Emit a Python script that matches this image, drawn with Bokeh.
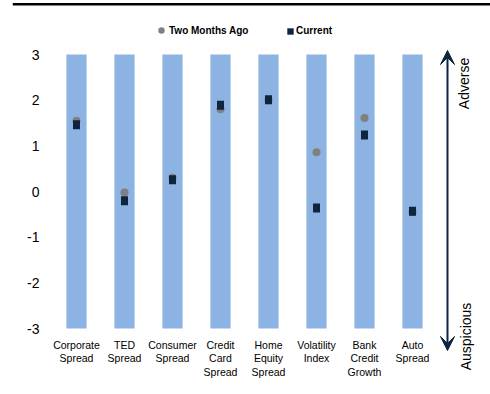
from bokeh.plotting import figure
from bokeh.models import (Range1d, FixedTicker, Legend, LegendItem, Arrow, VeeHead, Label,
                          Span, ColumnDataSource)
from bokeh.core.properties import value
from bokeh.embed import file_html
from bokeh.resources import INLINE
import math

categories = ["Corporate\nSpread", "TED\nSpread", "Consumer\nSpread", "Credit\nCard\nSpread",
              "Home\nEquity\nSpread", "Volatility\nIndex", "Bank\nCredit\nGrowth", "Auto\nSpread"]
two_months_ago = [1.55, -0.02, 0.30, 1.80, 2.00, 0.86, 1.61, -0.45]
current = [1.46, -0.20, 0.26, 1.89, 2.01, -0.36, 1.24, -0.43]
y_ticks = [-3, -2, -1, 0, 1, 2, 3]
y_tick_labels = ["-3", "-2", "-1", "0", "1", "2", "3"]
y_min, y_max = -3, 3

W, H = 490, 394
LEFT = 12
X0_PX = 76.0      # pixel centre of first category
STEP = 48.0       # pixels between categories
Y0_PX = 54.0      # pixel of y_max
PPU = 45.67       # pixels per y unit

def px_x(px):
    return (px - X0_PX) / STEP

def px_y(py):
    return y_max - (py - Y0_PX) / PPU

xs = list(range(len(categories)))

p = figure(width=W, height=H, output_backend="svg", toolbar_location=None,
           x_range=Range1d(px_x(LEFT), px_x(W)), y_range=Range1d(px_y(H), px_y(0)),
           min_border_left=LEFT, min_border_right=0, min_border_top=0, min_border_bottom=0)
p.outline_line_color = None
p.xgrid.visible = False
p.ygrid.visible = False
p.xaxis.visible = False
p.background_fill_color = "white"
p.border_fill_color = "white"

src = ColumnDataSource(dict(x=xs, top=[y_max] * len(xs), bottom=[y_min] * len(xs),
                            prev=two_months_ago, cur=current, name=categories))
p.vbar(x="x", top="top", bottom="bottom", width=0.42, source=src,
       fill_color="#8DB3E2", line_color=None)
r_prev = p.scatter(x="x", y="prev", source=src, size=8, marker="circle",
                   fill_color="#808080", line_color=None)
r_cur = p.rect(x="x", y="cur", source=src, width=7, height=9, width_units="screen",
               height_units="screen", fill_color="#0F243E", line_color=None)

# category labels under the bars
lab_src = ColumnDataSource(dict(x=xs, y=[px_y(338)] * len(xs), text=categories))
p.text(x="x", y="y", text="text", source=lab_src, text_align="center", text_baseline="top",
       text_font=value("Liberation Sans"), text_font_size="10.5px", text_color="black",
       text_line_height=1.14)

# y axis
p.yaxis.ticker = FixedTicker(ticks=y_ticks)
p.yaxis.major_label_overrides = {t: s for t, s in zip(y_ticks, y_tick_labels)}
p.yaxis.axis_line_color = None
p.yaxis.major_tick_line_color = None
p.yaxis.minor_tick_line_color = None
p.yaxis.major_tick_out = 0
p.yaxis.major_tick_in = 0
p.yaxis.major_label_text_font = "Liberation Sans"
p.yaxis.major_label_text_font_size = "14px"
p.yaxis.major_label_text_color = "black"
p.yaxis.major_label_standoff = -27

# legends
legend1 = Legend(items=[LegendItem(label="Two Months Ago", renderers=[r_prev])],
                 location=(141, 356),
                 label_text_font="Liberation Sans", label_text_font_style="bold",
                 label_text_font_size="10px", label_text_color="black",
                 glyph_width=16, glyph_height=16, label_standoff=0,
                 padding=0, margin=0, border_line_color=None, background_fill_alpha=0)
legend2 = Legend(items=[LegendItem(label="Current", renderers=[r_cur])],
                 location=(274, 358),
                 label_text_font="Liberation Sans", label_text_font_style="bold",
                 label_text_font_size="10px", label_text_color="black",
                 glyph_width=8, glyph_height=8, label_standoff=2,
                 padding=0, margin=0, border_line_color=None, background_fill_alpha=0)
p.add_layout(legend1)
p.add_layout(legend2)

# top rule
p.add_layout(Span(location=px_y(3.7), dimension="width", line_color="black", line_width=2.5))

# adverse / auspicious arrow
ax = px_x(447)
navy = "#0F243E"
p.add_layout(Arrow(x_start=ax, y_start=px_y(350), x_end=ax, y_end=px_y(50),
                   start=VeeHead(size=14, fill_color=navy, line_color=navy),
                   end=VeeHead(size=14, fill_color=navy, line_color=navy),
                   line_color=navy, line_width=2))
p.add_layout(Label(x=px_x(463), y=px_y(83), text="Adverse", angle=math.pi / 2,
                   text_align="center", text_baseline="middle",
                   text_font="Liberation Sans", text_font_size="14px", text_color="black"))
p.add_layout(Label(x=px_x(465), y=px_y(336), text="Auspicious", angle=math.pi / 2,
                   text_align="center", text_baseline="middle",
                   text_font="Liberation Sans", text_font_size="14px", text_color="black"))

open("out.html", "w").write(file_html(p, INLINE))
